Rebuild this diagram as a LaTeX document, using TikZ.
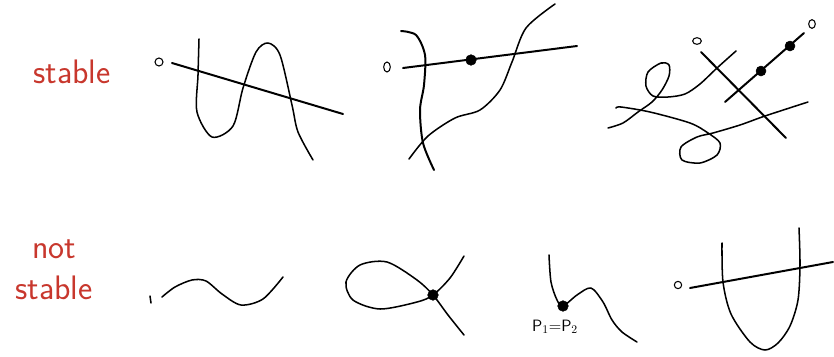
\documentclass[tikz,border=0pt]{standalone}
\usepackage{tikz}
\usetikzlibrary{positioning}
\definecolor{inkred}{RGB}{200,55,45}

\begin{document}
\begin{tikzpicture}[x=0.03cm, y=-0.03cm, >=stealth,
    curve/.style={line width=1.3pt, line cap=round, line join=round},
    cut/.style={line width=1.7pt, line cap=round},
    blob/.style={fill=black},
    hole/.style={line width=0.9pt},
    word/.style={inkred, font=\sffamily\fontsize{29}{35}\selectfont, align=center}]
  \useasboundingbox (0,0) rectangle (834,356);

  % Row labels
  \node[word] (stable) at (72,72) {stable};
  \node[word] (notstable) at (54,270) {not\\stable};

  % Stable 1: wavy curve cut by a line
  \draw[hole] (159,62) circle (0.12cm);
  \draw[cut] (172,63) -- (343,114);
  \draw[curve] plot[smooth] coordinates {(199,39) (198,75) (197,112) (212,137) (233,126) (243,88) (256,52) (268,43) (280,55) (292,105) (298,132) (313,160)};

  % Stable 2: two crossing curves, one marked point
  \draw[hole] (387,67) ellipse (0.1cm and 0.15cm);
  \draw[cut] (403,68) -- (577,46);
  \filldraw[blob] (471,60) circle (0.16cm);
  \draw[curve, line width=1.7pt] plot[smooth] coordinates {(401,31) (416,35) (425,55) (424,85) (420,110) (423,143) (434,170)};
  \draw[curve] plot[smooth] coordinates {(409,159) (428,136) (455,118) (480,110) (500,90) (512,62) (526,28) (555,4)};

  % Stable 3: looped curves, two lines, two marked points
  \draw[hole] (697,41) ellipse (0.13cm and 0.1cm);
  \draw[hole] (812,24) ellipse (0.1cm and 0.13cm);
  \draw[cut] (701,52) -- (786,138);
  \draw[cut] (725,102) -- (804,33);
  \filldraw[blob] (761,71) circle (0.15cm);
  \filldraw[blob] (790,46) circle (0.15cm);
  \draw[curve] plot[smooth] coordinates {(736,51) (717,68) (700,84) (685,94) (668,97) (653,96) (646,86) (648,72) (661,63) (669,65) (669,76) (662,90) (652,102) (638,112) (623,123) (608,128)};
  \draw[curve] plot[smooth] coordinates {(616,108) (621,107) (650,112) (690,123) (708,133) (720,143) (717,155) (700,163) (682,160) (681,147) (697,137) (713,133) (740,125) (765,116) (808,102)};

  % Not stable 1: a lone curve
  \draw[curve] (150,296) -- (151,303);
  \draw[curve] plot[smooth] coordinates {(162,297) (175,287) (192,280) (206,281) (222,294) (241,305) (263,299) (283,277)};

  % Not stable 2: node
  \draw[curve] plot[smooth] coordinates {(464,256) (450,278) (433,295) (417,302) (380,309) (353,300) (346,282) (360,265) (387,262) (417,280) (433,295) (448,315) (464,335)};
  \filldraw[blob] (433,295) circle (0.16cm);

  % Not stable 3: two points collide
  \draw[curve] plot[smooth] coordinates {(549,255) (551,282) (557,300) (563,306) (577,295) (591,288) (603,302) (612,320) (622,332) (637,342)};
  \filldraw[blob] (563,306) circle (0.16cm);
  \node[font=\sffamily\fontsize{14}{16}\selectfont] (coll) at (555,327) {P$_1$=P$_2$};

  % Not stable 4: U-curve with a line
  \draw[hole] (678,285) circle (0.11cm);
  \draw[cut] (690,288) -- (833,262);
  \draw[curve] plot[smooth] coordinates {(722,243) (723,282) (731,314) (750,342) (765,350) (778,343) (790,326) (798,300) (800,265) (799,228)};

\end{tikzpicture}
\end{document}
